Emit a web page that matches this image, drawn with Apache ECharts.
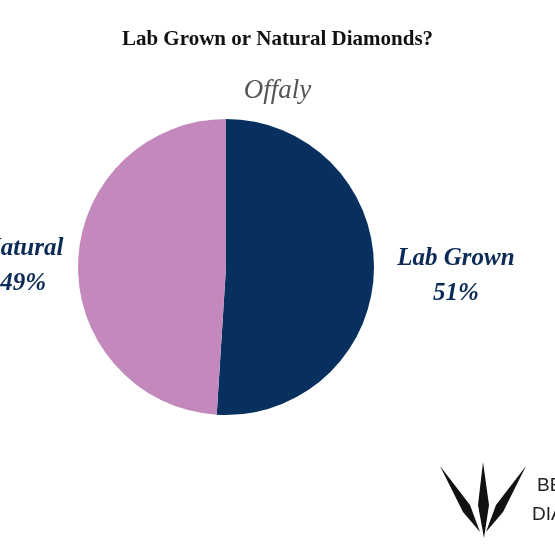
<!DOCTYPE html>
<html>
<head>
<meta charset="UTF-8">
<script src="https://cdn.jsdelivr.net/npm/echarts@6/dist/echarts.min.js"></script>
<style>html,body{margin:0;padding:0;background:#fff}#container{width:555px;height:555px}</style>
</head>
<body>
<div id="container"></div>
<script>
// data
var categories = ['Lab Grown', 'Natural'];
var shares = [51, 49];
var colours = ['#07305f', '#c389bd'];

var serif = '"Liberation Serif", "DejaVu Serif", serif';
var myChart = echarts.init(document.getElementById('container'));

var option = {
    backgroundColor: '#fff',
    title: [
        {text: 'Lab Grown or Natural Diamonds?', left: 'center', top: 24,
         textStyle: {fontFamily: serif, fontSize: 21, fontWeight: 'bold', color: '#111'}},
        {text: 'Offaly', left: 'center', top: 72,
         textStyle: {fontFamily: serif, fontSize: 27, fontStyle: 'italic', fontWeight: 'normal', color: '#555'}}
    ],
    series: [{
        type: 'pie',
        center: [226, 267],
        radius: 148,
        startAngle: 90,
        clockwise: true,
        silent: true,
        avoidLabelOverlap: false,
        data: categories.map(function (c, i) {
            return {name: c, value: shares[i], itemStyle: {color: colours[i]},
                    labelLine: {show: false, length: i === 0 ? 16 : 4, length2: 0}};
        }),
        label: {
            position: 'outside',
            formatter: function (p) {
                var k = p.dataIndex === 0 ? 'w' : 'n';
                return '{' + k + '|' + p.name + '}\n{' + k + '|' + p.value + '%}';
            },
            rich: {
                w: {width: 122, align: 'center', fontFamily: serif, fontSize: 25, fontStyle: 'italic', fontWeight: 'bold', color: '#0b2a55', lineHeight: 35},
                n: {width: 92, align: 'center', fontFamily: serif, fontSize: 25, fontStyle: 'italic', fontWeight: 'bold', color: '#0b2a55', lineHeight: 35}
            },
            padding: [8, 0, 0, 0],
            overflow: 'none'
        },
        labelLine: {show: false, length: 16, length2: 0}
    }],
    graphic: [
        {type: 'polygon', shape: {points: [[483,462],[489,505],[484,538],[478,505]]}, style: {fill: '#111'}},
        {type: 'polygon', shape: {points: [[440,466],[470,505],[480,532],[463,512]]}, style: {fill: '#111'}},
        {type: 'polygon', shape: {points: [[526,466],[496,505],[486,532],[503,512]]}, style: {fill: '#111'}},
        {type: 'text', left: 537, top: 476, style: {text: 'BESPOKE', fontFamily: '"Liberation Sans", sans-serif', fontSize: 19, fill: '#222'}},
        {type: 'text', left: 532, top: 505, style: {text: 'DIAMONDS', fontFamily: '"Liberation Sans", sans-serif', fontSize: 19, fill: '#222'}}
    ]
};
myChart.setOption(option);
</script>
</body>
</html>
